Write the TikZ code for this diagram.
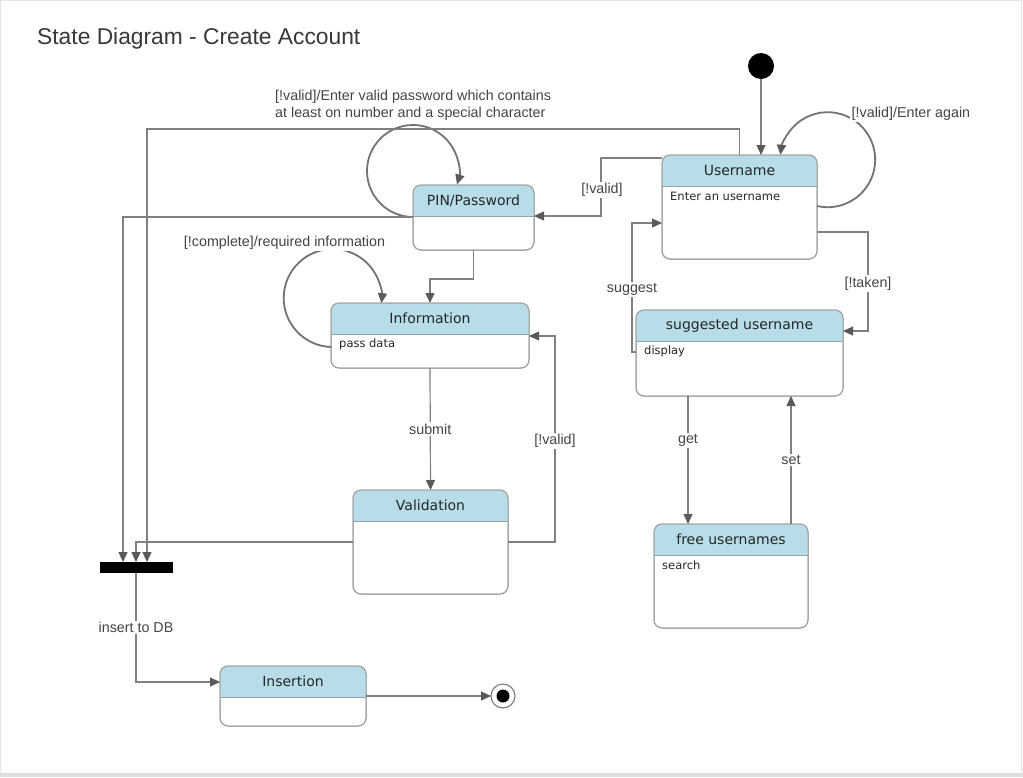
\documentclass[tikz,border=0pt]{standalone}
\usepackage{fontspec}
\setmainfont{Liberation Sans}
\newfontfamily\dejavu{DejaVu Sans}
\usetikzlibrary{arrows.meta}

\definecolor{headblue}{RGB}{183,221,232}
\definecolor{boxgray}{RGB}{160,160,160}
\definecolor{sepgray}{RGB}{145,165,175}
\definecolor{linegray}{RGB}{128,128,128}
\definecolor{tipgray}{RGB}{90,90,90}
\definecolor{labelgray}{RGB}{68,68,68}

\tikzset{
  statebox/.style={draw=boxgray, line width=1pt, rounded corners=8pt, fill=white,
    anchor=north west, inner sep=0pt, outer sep=0pt},
  headtext/.style={font=\dejavu\fontsize{14}{16}\selectfont, text=black!85},
  bodytext/.style={font=\dejavu\fontsize{11.5}{13}\selectfont, text=black!85,
    anchor=west, inner sep=0pt},
  elabel/.style={font=\fontsize{14.3}{17}\selectfont, text=labelgray, fill=white, inner sep=1.5pt},
  flow/.style={draw=linegray, line width=1.2pt,
    -{Triangle[length=10pt,width=9pt,color=tipgray]}},
  loopline/.style={flow, line width=1.8pt, draw=linegray!90!black},
}

% state with blue title bar
\newcommand{\umlstate}[7]{%
  \node[statebox, minimum width=#4pt, minimum height=#5pt] (#1) at (#2,#3) {};
  \begin{scope}
    \clip ([yshift=-31pt]#1.north west) rectangle (#1.north east);
    \fill[headblue, rounded corners=8pt] (#1.north west) rectangle (#1.south east);
  \end{scope}
  \draw[sepgray, line width=1pt] ([yshift=-31pt]#1.north west) -- ([yshift=-31pt]#1.north east);
  \draw[boxgray, line width=1pt, rounded corners=8pt] (#1.north west) rectangle (#1.south east);
  \node[headtext] (#1-head) at ([yshift=-15.5pt]#1.north) {#6};
  \node[bodytext] (#1-body) at ([xshift=8pt,yshift=-41pt]#1.north west) {#7};
}

\begin{document}
\begin{tikzpicture}[x=1pt, y=-1pt]
  \useasboundingbox (0,0) rectangle (1023,777);
  \fill[white] (0,0) rectangle (1023,777);
  \draw[gray!20, line width=1pt] (0.5,0.5) rectangle (1021.5,773);
  \fill[gray!25] (0,773) rectangle (1023,777);

  \node[anchor=base west, font=\fontsize{22.8}{26}\selectfont, text=black!78, inner sep=0pt]
    (title) at (37,44) {State Diagram - Create Account};

  \umlstate{user}{662}{155}{155}{104}{Username}{Enter an username}
  \umlstate{pin}{413}{185}{121}{65}{PIN/Password}{}
  \umlstate{info}{331}{303}{198}{65}{Information}{pass data}
  \umlstate{valid}{353}{490}{155}{104}{Validation}{}
  \umlstate{sugg}{636}{310}{207}{86}{suggested username}{display}
  \umlstate{free}{654}{524}{154}{104}{free usernames}{search}
  \umlstate{ins}{220}{666}{146}{60}{Insertion}{}

  \node[circle, fill=black, minimum size=26pt, inner sep=0pt, outer sep=0pt] (init) at (761,66) {};
  \node[fill=black, minimum width=73pt, minimum height=11pt, inner sep=0pt, outer sep=0pt] (join) at (136,567.5) {};
  \node[circle, draw=linegray, fill=white, line width=1.2pt, minimum size=24pt, inner sep=0pt, outer sep=0pt] (final) at (503,696) {};
  \node[circle, fill=black, minimum size=13pt, inner sep=0pt] (final-dot) at (final) {};

  % self loops
  \draw[loopline] ([yshift=-51pt]user.north east) arc[start angle=103, end angle=-174, radius=47.5];
  \draw[loopline] ([yshift=-32pt]pin.north west) arc[start angle=90, end angle=377, radius=46];
  \draw[loopline] ([yshift=-44pt]info.north west) arc[start angle=92, end angle=366, radius=49];

  \draw[flow] (init) -- (init |- user.north);
  \draw[flow] ([yshift=-3pt]user.north west) -- ++(-61,0) |- ([yshift=-31pt]pin.north east);
  \draw[flow] (user.north) -- ++(0,-26) -| ([xshift=11pt]join.north);
  \draw[flow] ([yshift=-32pt]pin.north west) -| ([xshift=-13pt]join.north);
  \draw[flow] (pin.south) -- ++(0,29) -| (info.north);
  \draw[flow] (info.south) -- (valid.north) node[elabel, midway] (lbl-submit) {submit};
  \draw[flow] ([yshift=-52pt]valid.north east) -- ++(47,0) |- ([yshift=-33pt]info.north east)
    node[elabel, pos=0.25, yshift=-2pt] (lbl-valid2) {[!valid]};
  \draw[flow] ([yshift=-52pt]valid.north west) -| (join.north);
  \draw[flow] (join.south) |- ([yshift=-16pt]ins.north west)
    node[elabel, pos=0.25] (lbl-insert) {insert to DB};
  \draw[flow] ([yshift=-30pt]ins.north east) -- (final.west);
  \draw[flow] ([yshift=-77pt]user.north east) -- ++(51,0) |- ([yshift=-21pt]sugg.north east)
    node[elabel, pos=0.25, yshift=-2pt] (lbl-taken) {[!taken]};
  \draw[flow] ([yshift=-42pt]sugg.north west) -- ++(-4,0) |- ([yshift=-68pt]user.north west)
    node[elabel, pos=0.25, yshift=-2pt] (lbl-suggest) {suggest};
  \draw[flow] ([xshift=52pt]sugg.south west) -- ([xshift=34pt]free.north west)
    node[elabel, pos=0.33, yshift=-2pt] (lbl-get) {get};
  \draw[flow] ([xshift=-17pt]free.north east) -- ([xshift=-52pt]sugg.south east)
    node[elabel, midway] (lbl-set) {set};

  \node[elabel] (lbl-valid1) at (602,190) {[!valid]};
  \node[elabel, anchor=west] (lbl-again) at (850,114) {[!valid]/Enter again};
  \node[elabel, anchor=west, align=left] (lbl-pwd) at (273.5,105.5)
    {[!valid]/Enter valid password which contains\\at least on number and a special character};
  \node[elabel] (lbl-complete) at (284.5,243) {[!complete]/required information};
\end{tikzpicture}
\end{document}
